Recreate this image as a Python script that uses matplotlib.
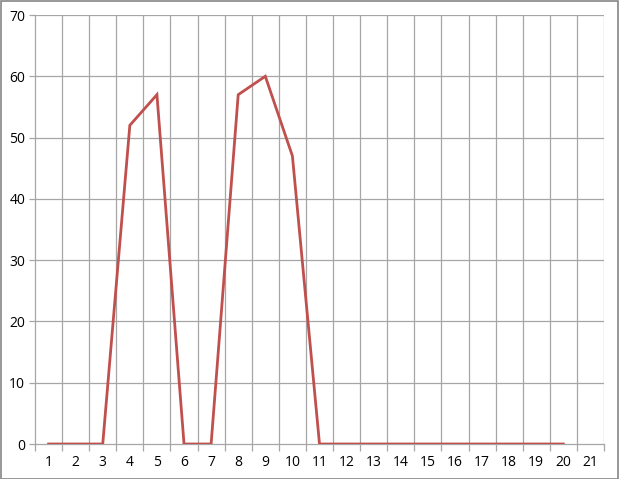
import numpy as np
import matplotlib
matplotlib.use("Agg")
import matplotlib.pyplot as plt
from matplotlib.patches import Rectangle

categories = list(range(1, 22))
x_points = list(range(1, 21))
values = [0, 0, 0, 52, 57, 0, 0, 57, 60, 47, 0, 0, 0, 0, 0, 0, 0, 0, 0, 0]
y_ticks = [0, 10, 20, 30, 40, 50, 60, 70]

plt.rcParams['font.family'] = ['Open Sans', 'DejaVu Sans']

fig = plt.figure(figsize=(6.19, 4.79), dpi=100)
ax = fig.add_axes([35 / 619, 35 / 479, 569 / 619, 429 / 479])

grid_col = '#A6A6A6'
ax.set_xlim(0.5, 21.5)
ax.set_ylim(0, 70)
ax.set_yticks(y_ticks)
ax.set_xticks(categories)
ax.set_xticks(np.arange(0.5, 22, 1), minor=True)
for xv in np.arange(1.5, 22, 1):
    ax.axvline(xv, color=grid_col, lw=0.9, zorder=1)
for yv in y_ticks[1:]:
    ax.axhline(yv, color=grid_col, lw=0.9, zorder=1)

ax.plot(x_points, values, color='#C0504D', lw=2.0, zorder=3, solid_joinstyle='miter')

for side in ['top', 'right']:
    ax.spines[side].set_visible(False)
for side in ['left', 'bottom']:
    ax.spines[side].set_color(grid_col)
    ax.spines[side].set_linewidth(0.9)

ax.tick_params(axis='x', which='major', length=0, pad=8, labelsize=10, colors='black')
ax.tick_params(axis='x', which='minor', length=5, color=grid_col, width=0.9)
ax.tick_params(axis='y', length=4, color=grid_col, width=0.9, labelsize=10, pad=3)

fig.patches.append(Rectangle((0.5 / 619, 0.5 / 479), 617.5 / 619, 477.5 / 479,
                             transform=fig.transFigure, fill=False,
                             edgecolor='#868686', lw=1.2))

fig.savefig('out.png', dpi=100)
